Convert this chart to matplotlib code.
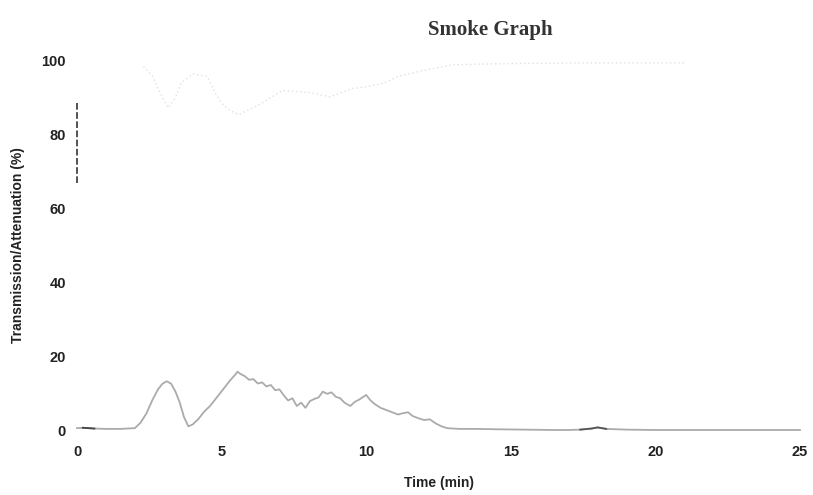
import matplotlib
matplotlib.use("Agg")
import matplotlib.pyplot as plt

# attenuation trace (lower curve)
att_t = [0, 0.2, 0.4, 0.6, 1.0, 1.5, 2.0, 2.2, 2.4, 2.6, 2.8, 2.95, 3.1, 3.25, 3.4, 3.55,
         3.7, 3.85, 4.0, 4.2, 4.4, 4.6, 4.8, 5.0, 5.15, 5.3, 5.45, 5.55, 5.65, 5.8, 5.95,
         6.1, 6.25, 6.4, 6.55, 6.7, 6.85, 7.0, 7.15, 7.3, 7.45, 7.6, 7.75, 7.9, 8.05, 8.2,
         8.35, 8.5, 8.65, 8.8, 8.95, 9.1, 9.25, 9.45, 9.6, 9.75, 9.9, 10.0, 10.15, 10.3,
         10.5, 10.7, 10.9, 11.1, 11.3, 11.45, 11.6, 11.8, 12.0, 12.2, 12.4, 12.6, 12.8,
         13.2, 13.8, 14.5, 15.5, 16.5, 17.0, 17.4, 17.8, 18.0, 18.3, 19.0, 20.0, 21.0,
         22.0, 23.0, 24.0, 25.0]
att_v = [0.5, 0.6, 0.5, 0.4, 0.3, 0.3, 0.5, 2.0, 4.5, 8.0, 11.0, 12.5, 13.2, 12.6, 10.5, 7.5,
         3.5, 1.0, 1.5, 3.0, 5.0, 6.5, 8.5, 10.5, 12.0, 13.5, 14.8, 15.8, 15.2, 14.6, 13.6,
         13.8, 12.6, 12.9, 11.8, 12.2, 10.8, 11.0, 9.4, 8.0, 8.6, 6.5, 7.4, 6.0, 7.8, 8.4,
         8.8, 10.4, 9.8, 10.2, 9.0, 8.6, 7.4, 6.5, 7.6, 8.2, 9.0, 9.5, 8.0, 7.0, 6.0, 5.4,
         4.8, 4.2, 4.6, 4.8, 3.8, 3.2, 2.7, 2.9, 1.8, 1.0, 0.5, 0.3, 0.3, 0.2, 0.1, 0.0,
         0.0, 0.1, 0.4, 0.7, 0.3, 0.1, 0.0, 0.0, 0.0, 0.0, 0.0, 0.0]

# transmission trace (upper, faint)
trn_t = [2.3, 2.6, 2.9, 3.15, 3.4, 3.6, 4.0, 4.5, 4.8, 5.0, 5.3, 5.6, 6.0, 6.4, 7.1, 8.0,
         8.75, 9.5, 10.0, 10.6, 11.1, 12.0, 13.0, 15.0, 18.0, 21.0]
trn_v = [98.5, 96.0, 91.0, 87.3, 90.0, 94.0, 96.5, 95.8, 91.0, 88.6, 86.5, 85.5, 87.0, 88.6,
         92.0, 91.5, 90.3, 92.5, 93.0, 94.0, 95.8, 97.5, 99.0, 99.3, 99.5, 99.5]

# short dashed fragment of the y axis visible on the scan
axis_frag_y = [67, 89]

x_ticks = [0, 5, 10, 15, 20, 25]
y_ticks = [0, 20, 40, 60, 80, 100]

fig = plt.figure(figsize=(8.13, 4.95), dpi=100)
ax = fig.add_axes([77 / 813, 1 - 430 / 495, (800 - 77) / 813, (430 - 61) / 495])
ax.set_xlim(0, 25)
ax.set_ylim(0, 100)

ax.plot(att_t, att_v, color="#ababab", linewidth=1.3, clip_on=False)
# darker bits of the scanned trace
ax.plot(att_t[1:4], att_v[1:4], color="#444444", linewidth=1.3, clip_on=False)
ax.plot(att_t[79:83], att_v[79:83], color="#555555", linewidth=1.3, clip_on=False)
ax.plot(trn_t, trn_v, color="#e0e0e0", linewidth=1.0, linestyle=(0, (1, 2)), clip_on=False)
ax.plot([0, 0], axis_frag_y, color="#333333", linewidth=1.2,
        linestyle=(0, (4, 1.5)), clip_on=False)

for s in ax.spines.values():
    s.set_visible(False)
ax.set_xticks(x_ticks)
ax.set_yticks(y_ticks)
ax.tick_params(axis="x", length=0, labelsize=10.5, colors="#222222", pad=11)
ax.tick_params(axis="y", length=0, labelsize=10.5, colors="#222222", pad=8)
for lab in ax.get_xticklabels() + ax.get_yticklabels():
    lab.set_fontweight("bold")
    lab.set_family("Liberation Sans")

ax.set_xlabel("Time (min)", fontsize=10, fontweight="bold", family="Liberation Sans",
              color="#222222", labelpad=12)
ax.set_ylabel("Transmission/Attenuation (%)", fontsize=10, fontweight="bold",
              family="Liberation Sans", color="#222222", labelpad=12)

fig.text(490 / 813, 1 - 30 / 495, "Smoke Graph", ha="center", va="center",
         fontsize=15, fontweight="bold", family="Liberation Serif", color="#333333")

fig.savefig("out.png", dpi=100)
